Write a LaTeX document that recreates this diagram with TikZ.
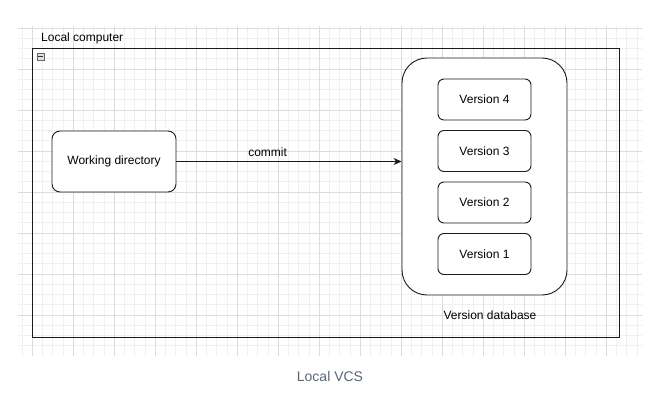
\documentclass[tikz,border=0pt]{standalone}
\usepackage{fontspec}
\setmainfont{Liberation Sans}
\usetikzlibrary{arrows.meta}
\definecolor{minorgrid}{HTML}{F0F0F0}
\definecolor{majorgrid}{HTML}{DCDCDC}
\definecolor{linecol}{HTML}{1A1A1A}
\definecolor{captioncol}{HTML}{5B6675}
\tikzset{
  roundbox/.style={draw=linecol, line width=0.9pt, rounded corners=8pt, fill=white, font=\fontsize{12}{14}\selectfont, inner sep=0pt},
  versionbox/.style={roundbox, minimum width=93pt, minimum height=41pt, rounded corners=6pt},
  plaintext/.style={font=\fontsize{12}{14}\selectfont, inner sep=0pt, text=black},
  arr/.style={draw=linecol, line width=0.9pt, -{Stealth[length=8pt,width=7pt,inset=2.5pt]}}
}
\begin{document}
\begin{tikzpicture}[x=1pt,y=-1pt]
\useasboundingbox (0,0) rectangle (649,401);
% grid
\begin{scope}
\clip (18,27) rectangle (642,355);
\foreach \i in {-1,...,62} {
  \draw[minorgrid, line width=0.5pt] ({32+10.25*\i},20) -- ({32+10.25*\i},360);
}
\foreach \j in {-1,...,33} {
  \draw[minorgrid, line width=0.5pt] (10,{28+10.25*\j}) -- (650,{28+10.25*\j});
}
\foreach \i in {-1,...,16} {
  \draw[majorgrid, line width=0.6pt] ({32+41*\i},20) -- ({32+41*\i},360);
}
\foreach \j in {0,...,8} {
  \draw[majorgrid, line width=0.6pt] (10,{28+41*\j}) -- (650,{28+41*\j});
}
\end{scope}
% outer container
\node[draw=linecol, line width=1.2pt, minimum width=587pt, minimum height=289pt, inner sep=0pt, anchor=north west] (computer) at (32,48) {};
\node[plaintext, anchor=west] (computerlabel) at (41,38) {Local computer};
\node[draw=gray!80!black, fill=gray!25, line width=0.5pt, minimum size=7pt, inner sep=0pt] (collapse) at (40.5,56.5) {};
\draw[black!80, line width=0.9pt] ([xshift=1.5pt]collapse.west) -- ([xshift=-1.5pt]collapse.east);
% working directory
\node[roundbox, minimum width=124pt, minimum height=61pt] (wd) at (114,161.5) {Working directory};
% version database
\node[roundbox, minimum width=165pt, minimum height=237pt, rounded corners=25pt] (db) at (484.5,176.5) {};
\node[versionbox] (v4) at (484.5,99.5) {Version 4};
\node[versionbox] (v3) at (484.5,151) {Version 3};
\node[versionbox] (v2) at (484.5,202.5) {Version 2};
\node[versionbox] (v1) at (484.5,254) {Version 1};
\node[plaintext] (dblabel) at (490,315) {Version database};
% commit arrow
\draw[arr] (wd.east |- 0,161.5) -- (db.west |- 0,161.5) node[pos=0.405, above=4pt, plaintext] (commitlabel) {commit};
% caption
\node[font=\fontsize{14}{16}\selectfont, text=captioncol, inner sep=0pt] (caption) at (330,376) {Local VCS};
\end{tikzpicture}
\end{document}
